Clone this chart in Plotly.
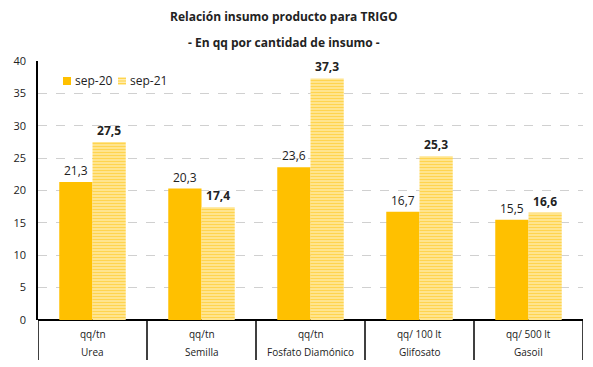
import plotly.graph_objects as go

categories = ["Urea", "Semilla", "Fosfato Diamónico", "Glifosato", "Gasoil"]
units = ["qq/tn", "qq/tn", "qq/tn", "qq/ 100 lt", "qq/ 500 lt"]
sep20 = [21.3, 20.3, 23.6, 16.7, 15.5]
sep21 = [27.5, 17.4, 37.3, 25.3, 16.6]
series_names = ["sep-20", "sep-21"]
yticks = [0, 5, 10, 15, 20, 25, 30, 35, 40]

FONT = "Open Sans"
TXT = "#222222"
OFF = 8  # page body margin
W, H = 593 - OFF, 367 - OFF
# plot area in screenshot pixels: x 38..583, y 61..320
L, T = 38 - OFF, 61 - OFF
R, B = W - (583 - OFF), H - (320 - OFF)
PW, PH = W - L - R, H - T - B


def px(x):
    return (x - OFF - L) / PW


def py(y):
    return (H - B - (y - OFF)) / PH


def fmt(v):
    return f"{v:.1f}".replace(".", ",")


fig = go.Figure()
fig.add_trace(go.Bar(
    x=categories, y=sep20, name=series_names[0],
    marker=dict(color="#FFC000", line=dict(width=0)),
    text=[fmt(v) for v in sep20], textposition="outside",
    textfont=dict(size=12, color=TXT, family=FONT),
    cliponaxis=False, showlegend=False,
))
fig.add_trace(go.Bar(
    x=categories, y=sep21, name=series_names[1],
    marker=dict(color="#FFE699", line=dict(width=0),
                pattern=dict(shape="-", fgcolor="#FFD44F", bgcolor="#FFF0B8",
                             size=3, solidity=0.6, fillmode="replace")),
    text=[f"<b>{fmt(v)}</b>" for v in sep21], textposition="outside",
    textfont=dict(size=12, color=TXT, family=FONT),
    cliponaxis=False, showlegend=False,
))

# category separators and two-line labels
for i in range(len(categories) + 1):
    fig.add_shape(type="line", xref="x", yref="paper",
                  x0=i - 0.5, x1=i - 0.5, y0=0, y1=py(360),
                  line=dict(color="#000000", width=1.5))
for c, u in zip(categories, units):
    fig.add_annotation(x=c, xref="x", yref="paper", y=py(334), text=u,
                       showarrow=False, font=dict(size=10, color=TXT, family=FONT),
                       yanchor="middle")
    fig.add_annotation(x=c, xref="x", yref="paper", y=py(352), text=c,
                       showarrow=False, font=dict(size=10, color=TXT, family=FONT),
                       yanchor="middle")

# title
fig.add_annotation(x=px(284), y=py(17), xref="paper", yref="paper",
                   text="<b>Relación insumo producto para TRIGO</b>", showarrow=False,
                   font=dict(size=12, color=TXT, family=FONT), xanchor="center", yanchor="middle")
fig.add_annotation(x=px(284), y=py(43), xref="paper", yref="paper",
                   text="<b>- En qq por cantidad de insumo -</b>", showarrow=False,
                   font=dict(size=12, color=TXT, family=FONT), xanchor="center", yanchor="middle")

# custom legend
fig.add_shape(type="rect", xref="paper", yref="paper",
              x0=px(63), x1=px(71), y0=py(85), y1=py(77),
              fillcolor="#FFC000", line=dict(width=0))
fig.add_annotation(x=px(73), y=py(81), xref="paper", yref="paper", text=series_names[0],
                   showarrow=False, xanchor="left", yanchor="middle",
                   font=dict(size=12, color=TXT, family=FONT))
fig.add_shape(type="rect", xref="paper", yref="paper",
              x0=px(118), x1=px(126), y0=py(85), y1=py(77),
              fillcolor="#FFF0B8", line=dict(width=0))
for yy in (78.5, 81, 83.5):
    fig.add_shape(type="line", xref="paper", yref="paper",
                  x0=px(118), x1=px(126), y0=py(yy), y1=py(yy),
                  line=dict(color="#FFD44F", width=1.2))
fig.add_annotation(x=px(128), y=py(81), xref="paper", yref="paper", text=series_names[1],
                   showarrow=False, xanchor="left", yanchor="middle",
                   font=dict(size=12, color=TXT, family=FONT))

fig.update_layout(
    width=W, height=H,
    margin=dict(l=L, r=R, t=T, b=B, autoexpand=False),
    paper_bgcolor="white", plot_bgcolor="white",
    barmode="group", bargap=0.39, bargroupgap=0,
    showlegend=False,
    xaxis=dict(showticklabels=False, showline=False, ticks="", range=[-0.5, 4.5],
               automargin=False),
    yaxis=dict(range=[0, 40], tickvals=yticks, showgrid=True,
               gridcolor="#D0D0D0", griddash="dash", gridwidth=1,
               showline=True, linecolor="#000000", linewidth=1.5,
               zeroline=True, zerolinecolor="#000000", zerolinewidth=2,
               ticks="", ticklabelstandoff=8, automargin=False,
               tickfont=dict(size=11, color=TXT, family=FONT)),
)

fig.write_html("out.html")
